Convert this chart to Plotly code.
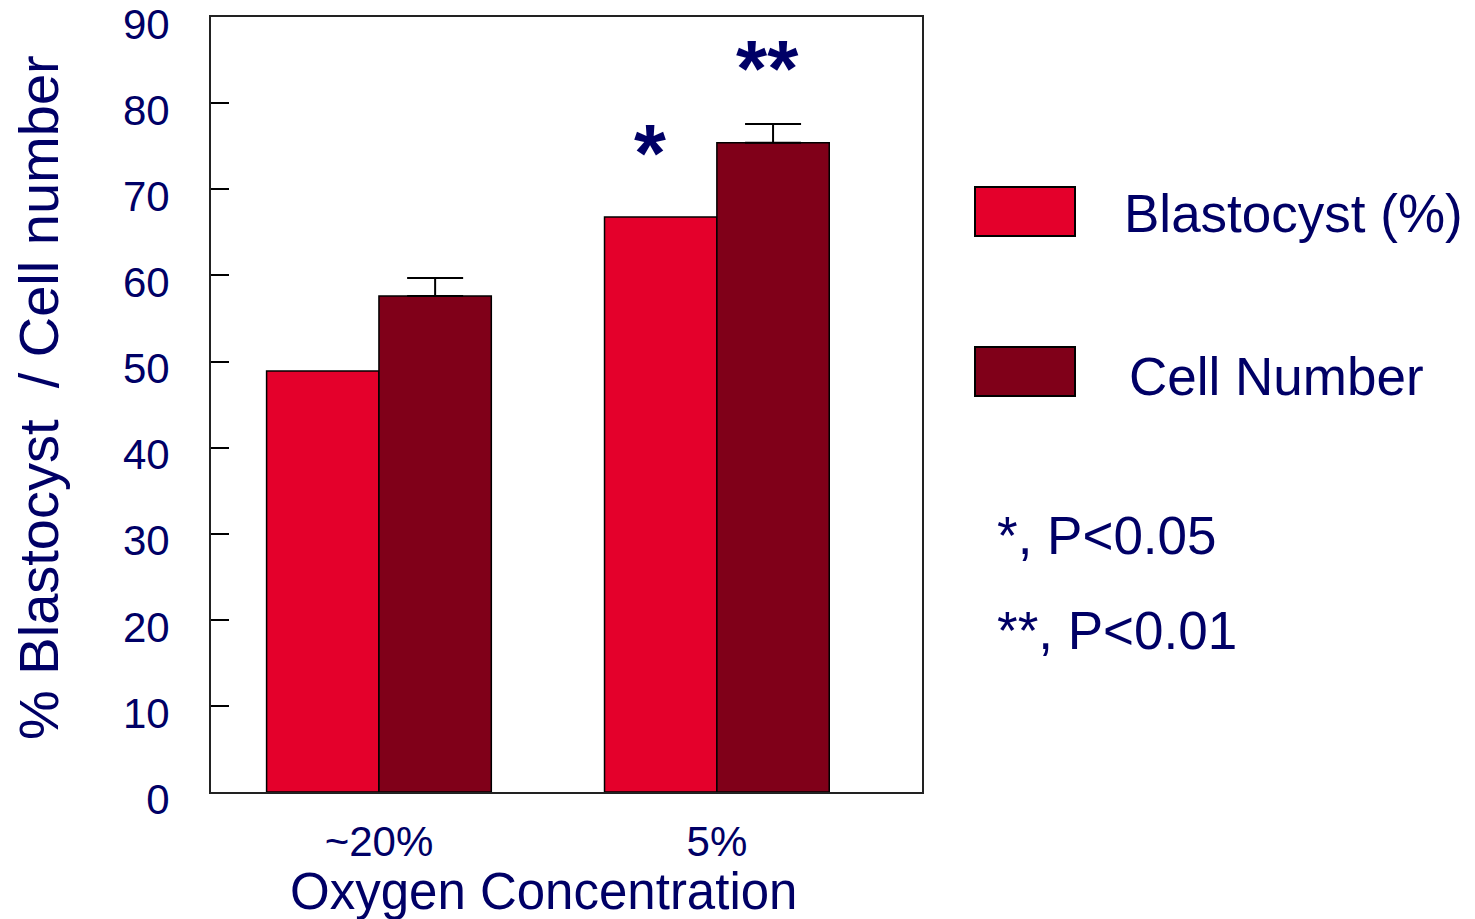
import plotly.graph_objects as go

categories = ["~20%", "5%"]
blastocyst = [48.9, 66.8]
cell_number = [57.6, 75.4]
cell_err = [2.1, 2.2]
y_ticks = [0, 10, 20, 30, 40, 50, 60, 70, 80, 90]

NAVY = "#000066"
RED = "#E4002B"
DARK = "#800019"
FONT = "Arial, Liberation Sans, sans-serif"

fig = go.Figure()
fig.add_trace(go.Bar(x=categories, y=blastocyst, name="Blastocyst (%)",
                     marker=dict(color=RED, line=dict(color="black", width=1.5)),
                     showlegend=False))
fig.add_trace(go.Bar(x=categories, y=cell_number, name="Cell Number",
                     marker=dict(color=DARK, line=dict(color="black", width=1.5)),
                     error_y=dict(type="data", array=cell_err, arrayminus=[0, 0],
                                  symmetric=False, color="black", thickness=2, width=28),
                     showlegend=False))

# page body has an 8px margin; positions below are given in screen pixels
OFF = 8
W, H = 1467, 911
L, T = 211 - OFF, 17 - OFF
pw, ph = 711, 775
R = W - L - pw
B = H - T - ph

def px(x):
    return (x - OFF - L) / pw

def py(y):
    return (T + ph - (y - OFF)) / ph

fig.update_layout(
    template="none",
    width=W, height=H,
    margin=dict(l=L, r=R, t=T, b=B, autoexpand=False),
    paper_bgcolor="white", plot_bgcolor="white",
    barmode="group", bargap=0.335, bargroupgap=0,
    font=dict(family=FONT, color=NAVY),
    xaxis=dict(type="category", range=[-0.497, 1.607], showline=True, linecolor="#222",
               linewidth=2, mirror=True, ticks="", showgrid=False, automargin=False,
               tickfont=dict(size=42, color=NAVY, family=FONT), ticklabelstandoff=12),
    yaxis=dict(range=[0, 90.02], tickvals=y_ticks, ticks="inside", ticklen=18,
               tickcolor="black", tickwidth=1.5, showline=True, linecolor="#222",
               linewidth=2, mirror=True, showgrid=False, zeroline=False, automargin=False,
               tickfont=dict(size=42, color=NAVY, family=FONT),
               ticklabelstandoff=31, ticklabelshift=7, ticklabeloverflow="allow"),
)

# significance stars
fig.add_annotation(x=0.803, y=74.3, xref="x", yref="y", text="<b>*</b>", showarrow=False,
                   font=dict(size=82, color=NAVY, family=FONT), yanchor="middle")
fig.add_annotation(x=1.149, y=84.0, xref="x", yref="y", text="<b>**</b>", showarrow=False,
                   font=dict(size=80, color=NAVY, family=FONT), yanchor="middle")

# custom legend
for (top, bottom, col) in [(187, 236, RED), (347, 396, DARK)]:
    fig.add_shape(type="rect", xref="paper", yref="paper",
                  x0=px(975), x1=px(1075), y0=py(bottom), y1=py(top),
                  fillcolor=col, line=dict(color="black", width=2))

texts = [("Blastocyst (%)", 1122, 213), ("Cell Number", 1127, 376),
         ("*, P<0.05", 995, 535), ("**, P<0.01", 995, 630)]
for t, x, y in texts:
    fig.add_annotation(x=px(x), y=py(y), xref="paper", yref="paper", text=t,
                       showarrow=False, xanchor="left", yanchor="middle",
                       font=dict(size=53, color=NAVY, family=FONT))

# axis titles
fig.add_annotation(x=px(543), y=py(891), xref="paper", yref="paper",
                   text="Oxygen Concentration", showarrow=False,
                   xanchor="center", yanchor="middle",
                   font=dict(size=51, color=NAVY, family=FONT))
fig.add_annotation(x=px(38), y=py(398), xref="paper", yref="paper",
                   text="% Blastocyst \u00a0/ Cell number", showarrow=False, textangle=-90,
                   xanchor="center", yanchor="middle",
                   font=dict(size=56, color=NAVY, family=FONT))

fig.write_html("out.html")
